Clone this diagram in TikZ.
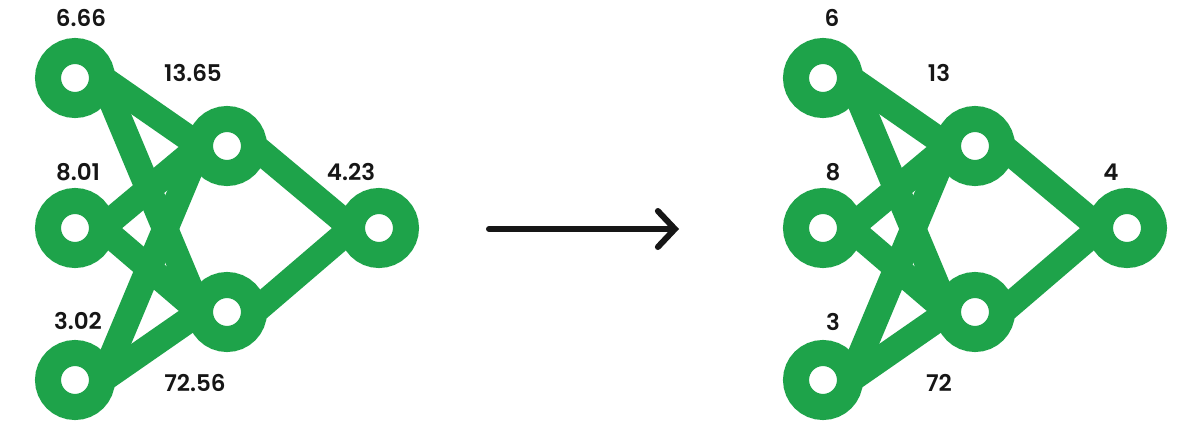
\documentclass[tikz,border=0pt]{standalone}
\usepackage{fontspec}
\setmainfont{Poppins}[BoldFont=* SemiBold]
\usetikzlibrary{arrows.meta,backgrounds}
\definecolor{ringgreen}{RGB}{30,163,74}
\definecolor{ink}{RGB}{22,22,22}
\tikzset{
    ring/.style={circle,draw=ringgreen,line width=26pt,fill=white,minimum size=54pt,inner sep=0pt,outer sep=0pt},
    link/.style={ringgreen,line width=26pt},
    val/.style={text=ink,font=\fontsize{23}{27}\selectfont\bfseries,inner sep=0pt}
}
\begin{document}
\begin{tikzpicture}[x=1pt,y=-1pt]
    \useasboundingbox (0,0) rectangle (1201,439);
    % both networks: left with decimals, right rounded down
    \foreach \g/\dx in {a/0,b/748} {
        \node[ring] (\g1) at (75+\dx,78) {};
        \node[ring] (\g2) at (75+\dx,228) {};
        \node[ring] (\g3) at (75+\dx,380) {};
        \node[ring] (\g4) at (227+\dx,146) {};
        \node[ring] (\g5) at (227+\dx,312) {};
        \node[ring] (\g6) at (379+\dx,228) {};
        \begin{scope}[on background layer]
            \foreach \s/\t in {1/4,1/5,2/4,2/5,3/4,3/5,4/6,5/6}
                \draw[link] (\g\s.east) -- (\g\t.west);
        \end{scope}
    }
    \node[val] (la1) at (81,18) {6.66};
    \node[val] (la4) at (193,73) {13.65};
    \node[val] (la2) at (78,172) {8.01};
    \node[val] (la6) at (351,172) {4.23};
    \node[val] (la3) at (78,321) {3.02};
    \node[val] (la5) at (195,383) {72.56};
    \node[val] (lb1) at (832,18) {6};
    \node[val] (lb4) at (939,73) {13};
    \node[val] (lb2) at (833,172) {8};
    \node[val] (lb6) at (1111,172) {4};
    \node[val] (lb3) at (833,322) {3};
    \node[val] (lb5) at (939,383) {72};
    % rounding arrow
    \coordinate (from) at (489,229);
    \coordinate (to) at (679,229);
    \draw[ink,line width=6pt,line cap=round,-{Straight Barb[length=17pt,width=36pt,line cap=round]}] (from) -- (to);
\end{tikzpicture}
\end{document}
